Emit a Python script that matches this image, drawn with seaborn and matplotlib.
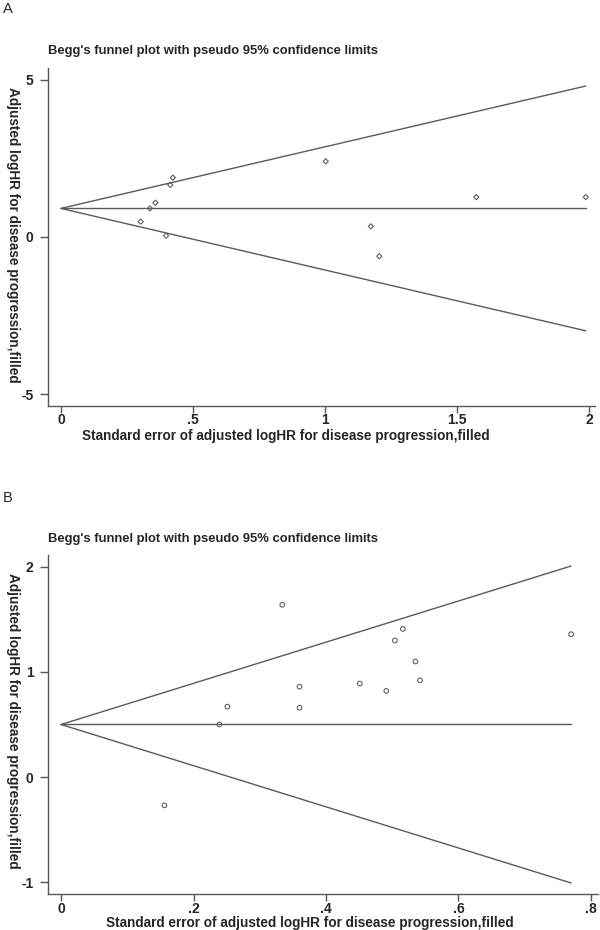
import matplotlib
matplotlib.use("Agg")
import matplotlib.pyplot as plt
import seaborn as sns
import numpy as np
import pandas as pd

# ---------------- data ----------------
title_text = "Begg's funnel plot with pseudo 95% confidence limits"
x_label = "Standard error of adjusted logHR for disease progression,filled"
y_label = "Adjusted logHR for disease progression,filled"

# Panel A
a_se = [0.302, 0.337, 0.358, 0.398, 0.414, 0.424, 1.003, 1.174, 1.206, 1.573, 1.988]
a_loghr = [0.49, 0.91, 1.09, 0.04, 1.66, 1.89, 2.41, 0.34, -0.61, 1.27, 1.27]
a_center = 0.91
a_xticks = [0, 0.5, 1, 1.5, 2]
a_xticklabels = ["0", ".5", "1", "1.5", "2"]
a_yticks = [5, 0, -5]
a_yticklabels = ["5", "0", "-5"]

# Panel B
b_se = [0.156, 0.239, 0.251, 0.334, 0.360, 0.360, 0.451, 0.491, 0.504, 0.516, 0.535, 0.542, 0.770]
b_loghr = [-0.27, 0.50, 0.67, 1.64, 0.86, 0.66, 0.89, 0.82, 1.30, 1.41, 1.10, 0.92, 1.36]
b_center = 0.50
b_xticks = [0, 0.2, 0.4, 0.6, 0.8]
b_xticklabels = ["0", ".2", ".4", ".6", ".8"]
b_yticks = [2, 1, 0, -1]
b_yticklabels = ["2", "1", "0", "-1"]

z95 = 1.96

# ---------------- style ----------------
sns.set_style("white")
plt.rcParams["font.family"] = ["Liberation Sans", "DejaVu Sans"]

W, H = 600, 930
fig = plt.figure(figsize=(W / 100, H / 100), dpi=100)

line_col = "#5a5a5a"
spine_col = "#555555"
mk_col = "#606060"


def px_ax(left, right, top, bottom):
    return fig.add_axes([left / W, 1 - bottom / H, (right - left) / W, (bottom - top) / H])


def draw_panel(ax, se, loghr, center, marker, msize, xlim, ylim,
               xticks, xticklabels, yticks, yticklabels, xpad, xlab_pos, ylab_pos):
    df = pd.DataFrame({"se": se, "loghr": loghr})
    se_max = max(se)
    lines = pd.DataFrame({
        "se": [0, se_max] * 3,
        "val": [center, center + z95 * se_max,
                center, center,
                center, center - z95 * se_max],
        "which": ["upper", "upper", "mid", "mid", "lower", "lower"],
    })
    sns.lineplot(data=lines, x="se", y="val", units="which", estimator=None,
                 color=line_col, lw=1.0, ax=ax, legend=False)
    sns.scatterplot(data=df, x="se", y="loghr", marker=marker, s=msize,
                    facecolor="none", edgecolor=mk_col, linewidth=0.8, ax=ax,
                    legend=False, zorder=3)
    ax.set_xlim(*xlim)
    ax.set_ylim(*ylim)
    ax.set_xticks(xticks)
    ax.set_xticklabels(xticklabels)
    ax.set_yticks(yticks)
    ax.set_yticklabels(yticklabels)
    for s in ["top", "right"]:
        ax.spines[s].set_visible(False)
    for s in ["left", "bottom"]:
        ax.spines[s].set_color(spine_col)
        ax.spines[s].set_linewidth(1.0)
    ax.tick_params(axis="y", direction="out", length=5.5, width=1, color=spine_col,
                   pad=5, labelsize=10, left=True)
    ax.tick_params(axis="x", direction="out", length=4.8, width=1, color=spine_col,
                   pad=xpad, labelsize=10, bottom=True)
    for lab in ax.get_xticklabels() + ax.get_yticklabels():
        lab.set_fontweight("bold")
    ax.set_xlabel(x_label, fontsize=9.8, fontweight="bold")
    ax.xaxis.label.set_horizontalalignment("left")
    ax.xaxis.label.set_verticalalignment("baseline")
    ax.xaxis.set_label_coords(*xlab_pos)
    ax.set_ylabel(y_label, fontsize=9.8, fontweight="bold", rotation=270)
    ax.yaxis.label.set_horizontalalignment("center")
    ax.yaxis.label.set_verticalalignment("center")
    ax.yaxis.set_label_coords(*ylab_pos)
    ax.grid(False)


# Panel A
axA = px_ax(48, 595, 68, 406)
draw_panel(axA, a_se, a_loghr, a_center, "D", 7, (-0.049, 2.023), (-5.38, 5.38),
           a_xticks, a_xticklabels, a_yticks, a_yticklabels, 0.5,
           ((82 - 48) / 547, (406 - 440) / 338), ((13 - 48) / 547, (406 - 235) / 338))

# Panel B
axB = px_ax(48, 598, 555, 894)
draw_panel(axB, b_se, b_loghr, b_center, "o", 11, (-0.0197, 0.8106), (-1.114, 2.114),
           b_xticks, b_xticklabels, b_yticks, b_yticklabels, 0.6,
           ((106 - 48) / 550, (894 - 926.5) / 339), ((13 - 48) / 550, (894 - 721) / 339))

# Titles and panel letters
fig.text(48 / W, 1 - 54 / H, title_text, fontsize=9.4, fontweight="bold",
         ha="left", va="baseline")
fig.text(48 / W, 1 - 542 / H, title_text, fontsize=9.4, fontweight="bold",
         ha="left", va="baseline")
fig.text(3 / W, 1 - 13 / H, "A", fontsize=10.5, ha="left", va="baseline")
fig.text(3 / W, 1 - 502 / H, "B", fontsize=10.5, ha="left", va="baseline")

fig.savefig("out.png", dpi=100, facecolor="white")
